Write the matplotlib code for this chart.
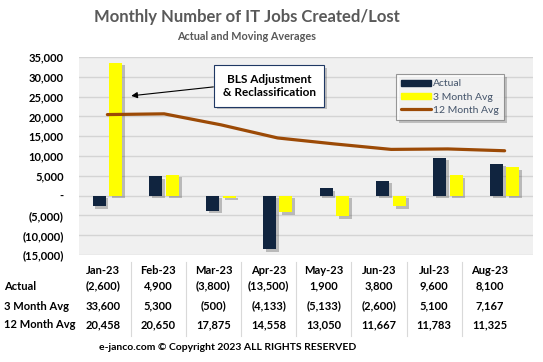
import matplotlib.pyplot as plt
import matplotlib.patheffects as pe
from matplotlib.patches import Patch
import numpy as np

months = ["Jan-23", "Feb-23", "Mar-23", "Apr-23", "May-23", "Jun-23", "Jul-23", "Aug-23"]
actual = [-2600, 4900, -3800, -13500, 1900, 3800, 9600, 8100]
avg3 = [33600, 5300, -500, -4133, -5133, -2600, 5100, 7167]
avg12 = [20458, 20650, 17875, 14558, 13050, 11667, 11783, 11325]
row_names = ["Actual", "3 Month Avg", "12 Month Avg"]

FONT = "Lato"
NAVY = "#10243f"
YELLOW = "#ffff00"
BROWN = "#9c4a06"


def fmt(v):
    if v == 0:
        return "-"
    if v < 0:
        return "({:,})".format(-v)
    return "{:,}".format(v)


fig = plt.figure(figsize=(5.43, 3.62), dpi=100)
ax = fig.add_axes([79 / 543, 1 - 255 / 362, 454 / 543, 198 / 362])
ax.set_facecolor("#f0f0f0")

shadow = [pe.SimplePatchShadow(offset=(2, -2), alpha=0.35, shadow_rgbFace="#555555"), pe.Normal()]
x = np.arange(len(months))
b1 = ax.bar(x - 0.145, actual, width=0.23, color=NAVY, zorder=3)
b2 = ax.bar(x + 0.145, avg3, width=0.23, color=YELLOW, zorder=3)
for b in list(b1) + list(b2):
    b.set_path_effects(shadow)
ln, = ax.plot(x, avg12, color=BROWN, lw=2.3, solid_capstyle="round", zorder=4)

ax.set_xlim(-0.5, len(months) - 0.5)
ax.set_ylim(-15000, 35000)
ax.set_yticks(range(-15000, 35001, 5000))
ax.set_yticklabels([fmt(v) for v in range(-15000, 35001, 5000)], fontsize=8, fontfamily=FONT, fontweight="bold")
ax.tick_params(axis="y", length=0, pad=11)
ax.set_xticks([])
ax.grid(axis="y", color="#d4d4d4", lw=1, zorder=0)
for s in ax.spines.values():
    s.set_visible(False)

handles = [Patch(color=NAVY), Patch(color=YELLOW), ln]
leg = ax.legend(handles, ["Actual", "3 Month Avg", "12 Month Avg"],
                loc="upper left", bbox_to_anchor=(312 / 454, 1 - 12 / 198), frameon=True, fancybox=False,
                prop={"family": FONT, "size": 7.5}, handlelength=2.8, handleheight=0.45,
                labelspacing=0.4, borderpad=0.5, handletextpad=0.2, labelcolor="#44546a")
leg.get_frame().set_edgecolor("#7f7f7f")
leg.get_frame().set_linewidth(0.8)
leg.get_frame().set_path_effects([pe.SimplePatchShadow(offset=(2, -2), alpha=0.3), pe.Normal()])

ax.annotate("BLS Adjustment\n& Reclassification", xy=(0.42, 25200), xytext=(2.85, 27700),
            ha="center", va="center", fontsize=8.5, fontfamily=FONT, fontweight="bold",
            bbox=dict(boxstyle="square,pad=0.75", fc="white", ec="#1f3864", lw=0.8,
                      path_effects=[pe.SimplePatchShadow(offset=(2, -2), alpha=0.3), pe.Normal()]),
            arrowprops=dict(arrowstyle="-|>", color="black", lw=0.8, mutation_scale=9,
                            shrinkA=0, shrinkB=0, relpos=(0, 0.5)))

fig.text(247 / 543, 1 - 17 / 362, "Monthly Number of IT Jobs Created/Lost", ha="center", va="center",
         fontsize=12, fontweight="bold", color="#595959", fontfamily=FONT)
fig.text(247 / 543, 1 - 36 / 362, "Actual and Moving Averages", ha="center", va="center",
         fontsize=7.8, fontweight="bold", color="#595959", fontfamily=FONT)

# data table under the chart
col_x = [103 + 55.2 * i for i in range(len(months))]
row_y = [286, 306, 325]
for i, m in enumerate(months):
    fig.text(col_x[i] / 543, 1 - 270 / 362, m, ha="center", va="center", fontsize=8,
             fontweight="bold", fontfamily=FONT)
for r, (name, vals) in enumerate(zip(row_names, [actual, avg3, avg12])):
    fig.text(4 / 543, 1 - row_y[r] / 362, name, ha="left", va="center", fontsize=8,
             fontweight="bold", fontfamily=FONT)
    for i, v in enumerate(vals):
        fig.text(col_x[i] / 543, 1 - row_y[r] / 362, fmt(v), ha="center", va="center", fontsize=8,
                 fontweight="bold", fontfamily=FONT)
for i in range(len(months) - 1):
    sx = (col_x[i] + col_x[i + 1]) / 2 / 543
    fig.add_artist(plt.Line2D([sx, sx], [1 - 262 / 362, 1 - 336 / 362], color="#d9d9d9", lw=0.8))

fig.text(228 / 543, 1 - 347 / 362, "e-janco.com \u00a9 Copyright 2023 ALL RIGHTS RESERVED", ha="center",
         va="center", fontsize=7.5, fontweight="bold", fontfamily=FONT)

fig.savefig("out.png", dpi=100)
plt.close(fig)
